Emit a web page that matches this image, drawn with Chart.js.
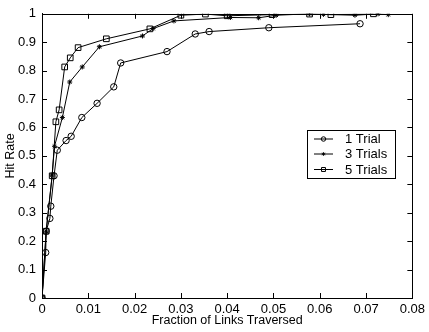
<!DOCTYPE html>
<html>
<head>
<meta charset="utf-8">
<script src="https://cdn.jsdelivr.net/npm/chart.js@4"></script>
<style>
  html, body { margin: 0; padding: 0; background: #fff; }
  #wrap { width: 429px; height: 332px; position: relative; }
</style>
</head>
<body>
<div id="wrap"><canvas id="hitChart"></canvas></div>
<script>
// Hit rate vs fraction of links traversed

const seriesLabels = ['1 Trial', '3 Trials', '5 Trials'];

// 1 Trial (open circles)
const trial1X = [0, 0.0008, 0.0009, 0.0017, 0.0019, 0.0026, 0.0033, 0.0052, 0.0063, 0.0086, 0.0119, 0.0155, 0.017, 0.027, 0.0331, 0.0361, 0.049, 0.0687];
const trial1Y = [0, 0.16, 0.235, 0.28, 0.323, 0.43, 0.52, 0.554, 0.569, 0.635, 0.685, 0.743, 0.827, 0.867, 0.929, 0.9375, 0.951, 0.965];

// 3 Trials (stars)
const trial3X = [0, 0.0009, 0.0022, 0.0027, 0.0044, 0.006, 0.0087, 0.0124, 0.0217, 0.024, 0.0285, 0.0407, 0.0468, 0.0506, 0.0578, 0.0608, 0.0676, 0.0726, 0.0748];
const trial3Y = [0, 0.235, 0.433, 0.534, 0.635, 0.76, 0.813, 0.884, 0.922, 0.948, 0.975, 0.987, 0.986, 0.995, 1.0, 0.998, 0.995, 1.0, 0.997];

// 5 Trials (open squares)
const trial5X = [0, 0.0009, 0.0022, 0.003, 0.0037, 0.0049, 0.0061, 0.0078, 0.0139, 0.0233, 0.030, 0.0353, 0.040, 0.0497, 0.0578, 0.0624, 0.0716];
const trial5Y = [0, 0.235, 0.43, 0.62, 0.662, 0.813, 0.845, 0.881, 0.912, 0.947, 0.995, 0.999, 0.993, 0.997, 0.999, 0.997, 1.0];

const xTicks = [0, 0.01, 0.02, 0.03, 0.04, 0.05, 0.06, 0.07, 0.08];
const yTicks = [0, 0.1, 0.2, 0.3, 0.4, 0.5, 0.6, 0.7, 0.8, 0.9, 1];

const FONT = 'Liberation Sans, Arial, Helvetica, sans-serif';

function toPoints(xs, ys) {
    return xs.map((x, i) => ({ x: x, y: ys[i] }));
}

function makeSet(label, xs, ys, style, radius) {
    return {
        label: label,
        data: toPoints(xs, ys),
        borderColor: '#000',
        backgroundColor: 'rgba(0,0,0,0)',
        borderWidth: 1,
        pointStyle: style,
        pointRadius: radius,
        pointBorderColor: '#000',
        pointBackgroundColor: 'rgba(0,0,0,0)',
        pointBorderWidth: 1,
        tension: 0
    };
}

// box around plot + inward tick marks (matlab style)
const framePlugin = {
    id: 'frame',
    afterDraw(chart) {
        const ctx = chart.ctx;
        const a = chart.chartArea;
        const xs = chart.scales.x, ys = chart.scales.y;
        const len = 5;
        ctx.save();
        ctx.strokeStyle = '#000';
        ctx.lineWidth = 1;
        ctx.strokeRect(Math.round(a.left) + 0.5, Math.round(a.top) + 0.5,
            Math.round(a.right - a.left), Math.round(a.bottom - a.top));
        ctx.beginPath();
        xTicks.forEach(v => {
            const px = Math.round(xs.getPixelForValue(v)) + 0.5;
            ctx.moveTo(px, a.bottom); ctx.lineTo(px, a.bottom - len);
            ctx.moveTo(px, a.top); ctx.lineTo(px, a.top + len);
        });
        yTicks.forEach(v => {
            const py = Math.round(ys.getPixelForValue(v)) + 0.5;
            ctx.moveTo(a.left, py); ctx.lineTo(a.left + len, py);
            ctx.moveTo(a.right, py); ctx.lineTo(a.right - len, py);
        });
        ctx.stroke();
        ctx.restore();
    }
};

// legend drawn inside the plot area
const boxLegend = {
    id: 'boxLegend',
    afterDraw(chart) {
        const ctx = chart.ctx;
        const box = { x: 307.5, y: 130.5, w: 88, h: 48 };
        const rows = [139, 154, 169.5];
        ctx.save();
        ctx.fillStyle = '#fff';
        ctx.fillRect(box.x, box.y, box.w, box.h);
        ctx.strokeStyle = '#000';
        ctx.lineWidth = 1;
        ctx.strokeRect(box.x, box.y, box.w, box.h);
        ctx.font = '13px ' + FONT;
        ctx.textBaseline = 'middle';
        chart.data.datasets.forEach((ds, i) => {
            const y = rows[i];
            ctx.strokeStyle = '#000';
            ctx.beginPath();
            ctx.moveTo(314, y); ctx.lineTo(333, y);
            ctx.stroke();
            ctx.fillStyle = 'rgba(0,0,0,0)';
            Chart.helpers.drawPoint(ctx, {
                pointStyle: ds.pointStyle,
                radius: ds.pointRadius * 0.7,
                borderWidth: 1
            }, 323.5, y);
            ctx.fillStyle = '#000';
            ctx.fillText(ds.label, 345, y + 0.5);
        });
        ctx.restore();
    }
};

new Chart(document.getElementById('hitChart'), {
    type: 'line',
    data: {
        datasets: [
            makeSet(seriesLabels[0], trial1X, trial1Y, 'circle', 3.2),
            makeSet(seriesLabels[1], trial3X, trial3Y, 'star', 2.5),
            makeSet(seriesLabels[2], trial5X, trial5Y, 'rect', 4)
        ]
    },
    options: {
        responsive: true,
        maintainAspectRatio: false,
        animation: false,
        layout: { padding: { top: 10, right: 16, left: 0, bottom: 0 } },
        plugins: {
            legend: { display: false },
            tooltip: { enabled: false }
        },
        scales: {
            x: {
                type: 'linear',
                min: 0,
                max: 0.08,
                afterFit: s => { s.height = 34; },
                afterBuildTicks: s => { s.ticks = xTicks.map(v => ({ value: v })); },
                ticks: {
                    color: '#000',
                    padding: 4,
                    font: { family: FONT, size: 13 },
                    callback: v => String(v)
                },
                grid: { drawOnChartArea: false, drawTicks: false },
                border: { display: true, color: '#000' },
                title: {
                    display: true,
                    text: 'Fraction of Links Traversed',
                    color: '#000',
                    font: { family: FONT, size: 12.5 },
                    padding: { top: 0, bottom: 3.5 }
                }
            },
            y: {
                type: 'linear',
                min: 0,
                max: 1,
                afterFit: s => { s.width = 42; },
                afterBuildTicks: s => { s.ticks = yTicks.map(v => ({ value: v })); },
                ticks: {
                    color: '#000',
                    padding: 6,
                    font: { family: FONT, size: 13 },
                    callback: v => String(v)
                },
                grid: { drawOnChartArea: false, drawTicks: false },
                border: { display: true, color: '#000' },
                title: {
                    display: true,
                    text: 'Hit Rate',
                    color: '#000',
                    font: { family: FONT, size: 12.5 },
                    padding: { top: 3, bottom: 0 }
                }
            }
        }
    },
    plugins: [framePlugin, boxLegend]
});
</script>
</body>
</html>
